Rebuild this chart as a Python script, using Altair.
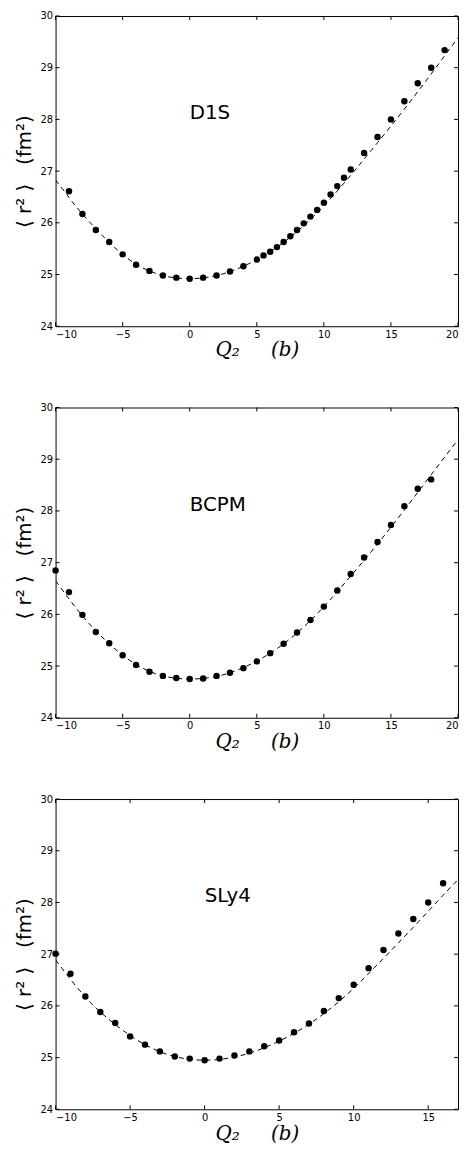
import altair as alt
import pandas as pd

# ---------------- data ----------------
# D1S
d1s_q = [-9, -8, -7, -6, -5, -4, -3, -2, -1, 0, 1, 2, 3, 4, 5,
         5.5, 6, 6.5, 7, 7.5, 8, 8.5, 9, 9.5, 10, 10.5, 11, 11.5, 12,
         13, 14, 15, 16, 17, 18, 19]
d1s_r2 = [26.61, 26.17, 25.86, 25.63, 25.39, 25.19, 25.07, 24.98, 24.94, 24.92, 24.94, 24.98, 25.06, 25.16, 25.29,
          25.37, 25.44, 25.53, 25.63, 25.74, 25.86, 25.99, 26.12, 26.25, 26.39, 26.55, 26.71, 26.87, 27.03,
          27.35, 27.66, 28.00, 28.35, 28.70, 29.00, 29.34]
d1s_fit_q = [-10, -9, -8, -6, -4, -2, 0, 2, 4, 6, 8, 10, 12, 14, 16, 18, 20]
d1s_fit_r2 = [26.83, 26.49, 26.17, 25.62, 25.20, 24.98, 24.92, 24.98, 25.16, 25.44, 25.83, 26.33, 26.92, 27.55, 28.20, 28.88, 29.58]

# BCPM
bcpm_q = list(range(-10, 19))
bcpm_r2 = [26.85, 26.43, 25.99, 25.66, 25.44, 25.21, 25.02, 24.89, 24.81, 24.77, 24.75, 24.76, 24.81, 24.87, 24.96, 25.09,
           25.25, 25.43, 25.65, 25.89, 26.15, 26.46, 26.78, 27.10, 27.40, 27.73, 28.09, 28.43, 28.61]
bcpm_fit_q = [-10, -8, -6, -4, -2, 0, 2, 4, 6, 8, 10, 12, 14, 16, 18, 20]
bcpm_fit_r2 = [26.65, 25.97, 25.43, 25.03, 24.81, 24.75, 24.80, 24.97, 25.25, 25.64, 26.15, 26.74, 27.36, 28.02, 28.70, 29.38]

# SLy4
sly4_q = list(range(-10, 17))
sly4_r2 = [27.01, 26.62, 26.18, 25.88, 25.67, 25.41, 25.25, 25.12, 25.02, 24.98, 24.95, 24.98, 25.04, 25.12,
           25.22, 25.33, 25.49, 25.66, 25.90, 26.15, 26.41, 26.73, 27.08, 27.40, 27.68, 28.00, 28.37]
sly4_fit_q = [-10, -8, -6, -4, -2, 0, 2, 4, 6, 8, 10, 12, 14, 16, 17]
sly4_fit_r2 = [26.89, 26.17, 25.64, 25.25, 25.02, 24.95, 25.01, 25.19, 25.47, 25.85, 26.34, 26.92, 27.52, 28.14, 28.44]

x_ticks_a = [-10, -5, 0, 5, 10, 15, 20]
x_ticks_b = [-10, -5, 0, 5, 10, 15]
y_ticks = [24, 25, 26, 27, 28, 29, 30]

NB = "\u00a0"
X_TITLE = "Q\u2082" + NB * 5 + "(b)"
Y_TITLE = "\u27e8" + NB + "r\u00b2" + NB + "\u27e9" + NB * 3 + "(fm\u00b2)"

W, H = 406, 313
TL = 4


def panel(name, q, r2, fq, fr2, xmax, xticks):
    xs = alt.Scale(domain=[-10, xmax], nice=False, zero=False)
    ys = alt.Scale(domain=[24, 30], nice=False, zero=False)
    xaxis = alt.Axis(values=xticks, title=X_TITLE, titleFont="DejaVu Serif",
                     titleFontStyle="italic", titleFontSize=20, titlePadding=1,
                     labelPadding=3, format="d",
                     labelExpr="replace(datum.label, '-', '\u2212')")
    yaxis = alt.Axis(values=y_ticks, title=Y_TITLE, titleFontSize=20,
                     titlePadding=6, labelPadding=3, format="d")
    pts = pd.DataFrame({"q": q, "r2": r2})
    fit = pd.DataFrame({"q": fq, "r2": fr2})
    tx = pd.DataFrame({"q": xticks})
    ty = pd.DataFrame({"r2": y_ticks})

    line = alt.Chart(fit).mark_line(color="black", strokeWidth=1, strokeDash=[5, 4],
                                    interpolate="natural", clip=True).encode(
        x=alt.X("q:Q", scale=xs, axis=xaxis),
        y=alt.Y("r2:Q", scale=ys, axis=yaxis))
    dots = alt.Chart(pts).mark_circle(color="black", size=42, opacity=1).encode(
        x=alt.X("q:Q", scale=xs, axis=xaxis), y=alt.Y("r2:Q", scale=ys, axis=yaxis))
    label = alt.Chart(pd.DataFrame({"name": [name]})).mark_text(
        align="left", baseline="alphabetic", fontSize=20, font="DejaVu Sans", color="black").encode(
        x=alt.datum(0, scale=xs), y=alt.datum(28, scale=ys), text="name:N")
    tb = alt.Chart(tx).mark_rule(color="black", strokeWidth=1).encode(
        x=alt.X("q:Q", scale=xs, axis=xaxis), y=alt.value(H), y2=alt.value(H - TL))
    tt = alt.Chart(tx).mark_rule(color="black", strokeWidth=1).encode(
        x=alt.X("q:Q", scale=xs, axis=xaxis), y=alt.value(0), y2=alt.value(TL))
    tlft = alt.Chart(ty).mark_rule(color="black", strokeWidth=1).encode(
        y=alt.Y("r2:Q", scale=ys, axis=yaxis), x=alt.value(0), x2=alt.value(TL))
    trt = alt.Chart(ty).mark_rule(color="black", strokeWidth=1).encode(
        y=alt.Y("r2:Q", scale=ys, axis=yaxis), x=alt.value(W), x2=alt.value(W - TL))
    return alt.layer(line, dots, label, tb, tt, tlft, trt).properties(width=W, height=H)


p1 = panel("D1S", d1s_q, d1s_r2, d1s_fit_q, d1s_fit_r2, 20, x_ticks_a)
p2 = panel("BCPM", bcpm_q, bcpm_r2, bcpm_fit_q, bcpm_fit_r2, 20, x_ticks_a)
p3 = panel("SLy4", sly4_q, sly4_r2, sly4_fit_q, sly4_fit_r2, 17, x_ticks_b)

chart = alt.vconcat(p1, p2, p3, spacing=41).properties(
    padding={"left": 5, "top": -3, "right": 0, "bottom": 0},
    background="white"
).configure_view(stroke="black", strokeWidth=1).configure_axis(
    grid=False, domain=False, ticks=False, labelFont="DejaVu Sans", labelFontSize=10,
    labelColor="black", titleColor="black", titleFontWeight="normal", titleFont="DejaVu Sans",
    labelOverlap=False
)

chart.save("out.html", embed_options={"renderer": "svg", "actions": False})
